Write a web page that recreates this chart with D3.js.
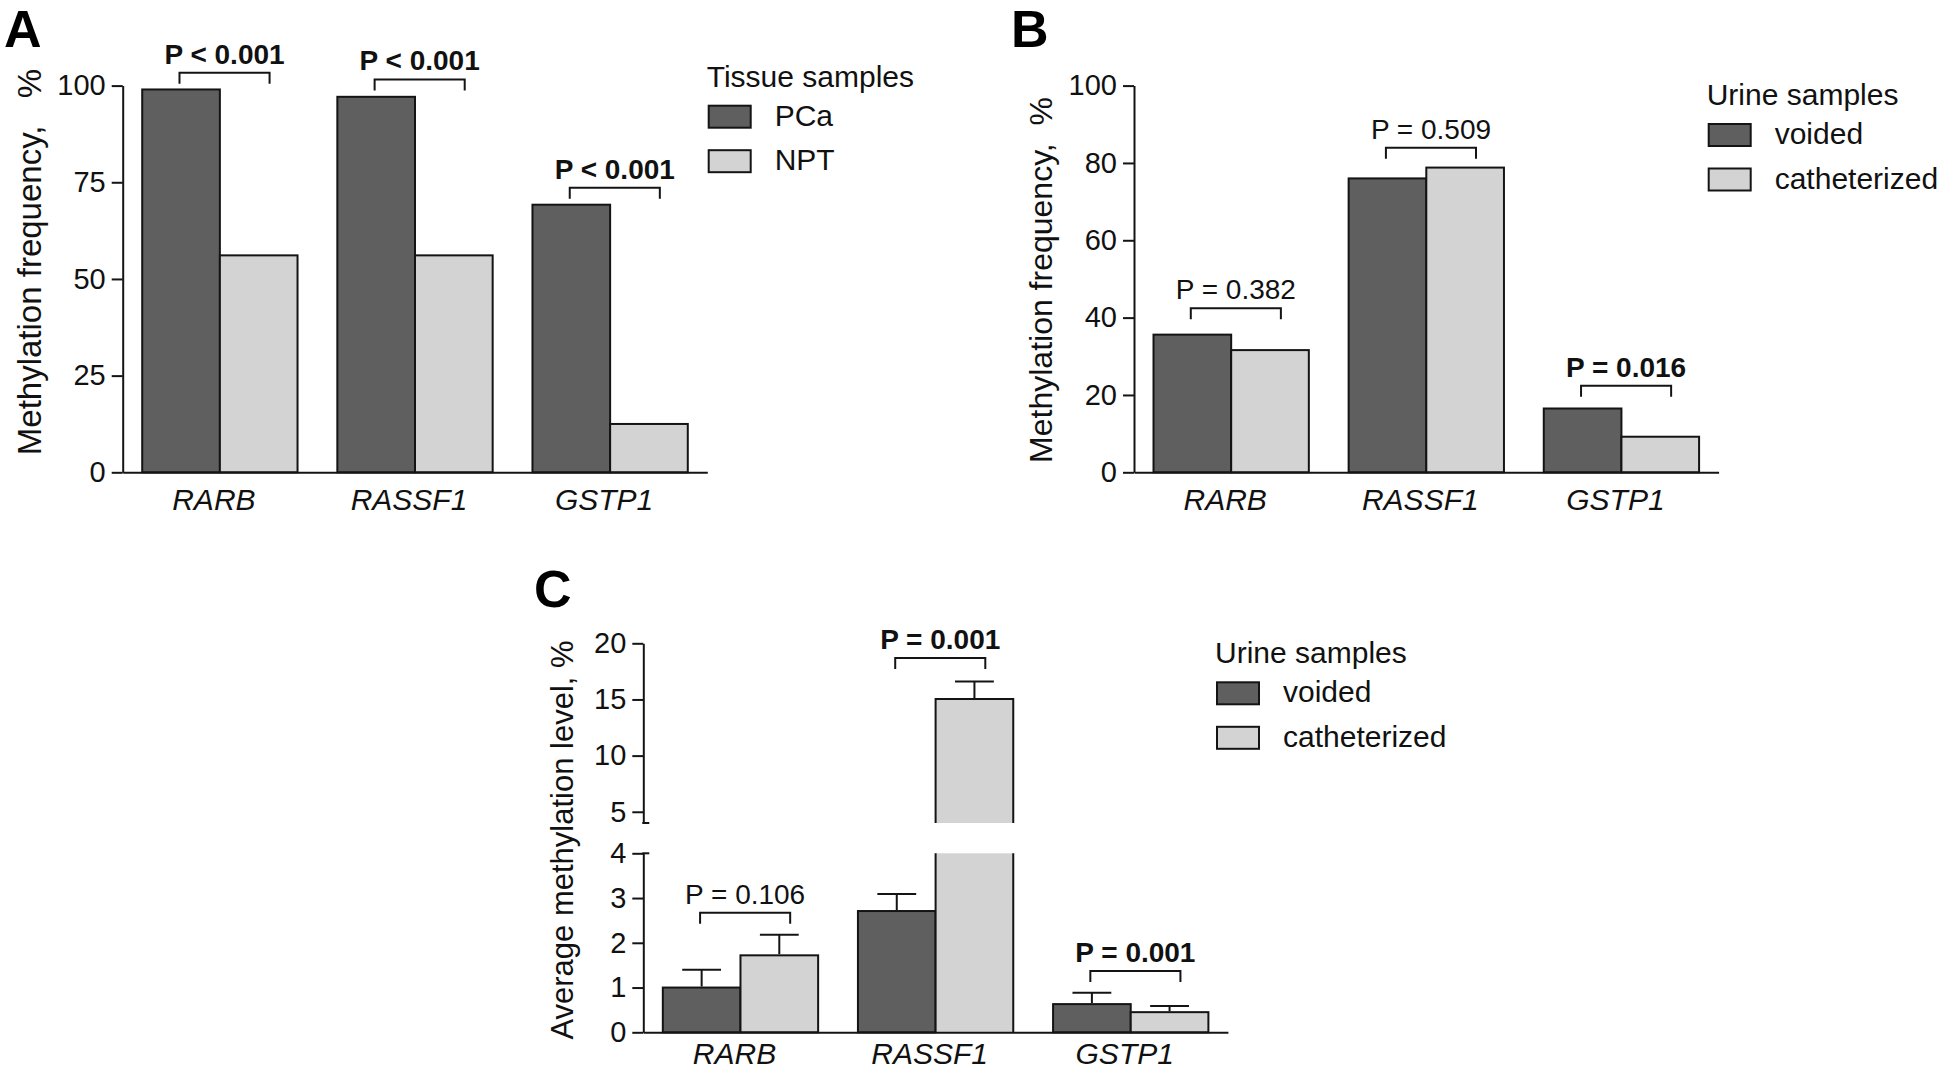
<!DOCTYPE html>
<html>
<head>
<meta charset="utf-8">
<script src="https://cdn.jsdelivr.net/npm/d3@7"></script>
<style>
  html, body { margin: 0; padding: 0; background: #fff; }
  svg { display: block; font-family: "Liberation Sans", Arial, Helvetica, sans-serif; }
</style>
</head>
<body>
<svg id="chart" width="1946" height="1073"></svg>
<script>
// ---------------- DATA ----------------
const genes = ["RARB", "RASSF1", "GSTP1"];

// Panel A: tissue samples, methylation frequency (%)
const tissueSeries = ["PCa", "NPT"];
const tissuePCa = [99.0, 97.1, 69.2];
const tissueNPT = [56.1, 56.1, 12.5];
const ticksA = [0, 25, 50, 75, 100];
const pLabelsA = ["P < 0.001", "P < 0.001", "P < 0.001"];
const pBoldA = [true, true, true];
const pLevelA = [103.3, 101.6, 73.6];

// Panel B: urine samples, methylation frequency (%)
const urineSeries = ["voided", "catheterized"];
const voidedFreq = [35.6, 76.0, 16.5];
const cathFreq = [31.6, 78.8, 9.2];
const ticksB = [0, 20, 40, 60, 80, 100];
const pLabelsB = ["P = 0.382", "P = 0.509", "P = 0.016"];
const pBoldB = [false, false, true];
const pLevelB = [42.4, 83.9, 22.4];

// Panel C: urine samples, average methylation level (%) with SEM
const voidedLevel = [1.0, 2.71, 0.63];
const cathLevel = [1.72, 15.05, 0.45];
const voidedSem = [0.40, 0.38, 0.255];
const cathSem = [0.46, 1.55, 0.14];
const ticksCLow = [0, 1, 2, 3, 4];
const ticksCHigh = [5, 10, 15, 20];
const breakAt = 4;
const pLabelsC = ["P = 0.106", "P = 0.001", "P = 0.001"];
const pBoldC = [false, true, true];
const pLevelC = [2.67, 18.7, 1.37];

// ---------------- STYLE ----------------
const DARK = "#5f5f5f", LIGHT = "#d3d3d3", INK = "#141414";
const colors = [DARK, LIGHT];
const svg = d3.select("#chart");
const fmt = d3.format("d");

function bandScales(x0, x1) {
  const outer = d3.scaleBand().domain(genes).range([x0, x1]).paddingInner(0.204).paddingOuter(0.1);
  const inner = d3.scaleBand().domain([0, 1]).range([0, outer.bandwidth()]);
  return { outer, inner };
}

function styleAxis(g) {
  g.selectAll("path.domain").attr("stroke", INK).attr("stroke-width", 2);
  g.selectAll(".tick line").attr("stroke", INK).attr("stroke-width", 2);
  g.selectAll(".tick text").attr("fill", "#111").style("font-size", "29px");
  g.attr("font-family", null).attr("font-size", null);
}

function drawXAxis(g, outer, y0, off) {
  const ax = g.append("g").attr("transform", `translate(0,${y0})`)
    .call(d3.axisBottom(outer).tickSize(0).tickSizeOuter(0).tickPadding(0));
  ax.selectAll("path.domain").attr("stroke", INK).attr("stroke-width", 2);
  ax.selectAll(".tick text").attr("dy", null).attr("y", off).attr("x", -6)
    .style("font-size", "30px").style("font-style", "italic").attr("fill", "#111");
  ax.attr("font-family", null).attr("font-size", null);
}

function drawPValues(g, outer, yfun, labels, bold, levels) {
  const bw = outer.bandwidth();
  genes.forEach((gname, i) => {
    const l = outer(gname) + 0.24 * bw, r = outer(gname) + 0.82 * bw;
    const yy = yfun(levels[i]);
    g.append("path").attr("d", `M${l},${yy + 11}V${yy}H${r}V${yy + 11}`)
      .attr("fill", "none").attr("stroke", INK).attr("stroke-width", 2);
    g.append("text").attr("x", (l + r) / 2).attr("y", yy - 9).attr("text-anchor", "middle")
      .style("font-size", "28px").style("font-weight", bold[i] ? "bold" : "normal")
      .attr("fill", "#111").text(labels[i]);
  });
}

function drawLegend(g, x, y, title, names) {
  g.append("text").attr("x", x).attr("y", y).style("font-size", "30px").attr("fill", "#111").text(title);
  names.forEach((n, i) => {
    const ry = y + 19 + i * 44.5;
    g.append("rect").attr("x", x + 2).attr("y", ry).attr("width", 42).attr("height", 22)
      .attr("fill", colors[i]).attr("stroke", INK).attr("stroke-width", 2);
    g.append("text").attr("x", x + 68).attr("y", ry + 20).style("font-size", "30px").attr("fill", "#111").text(n);
  });
}

function panelLetter(x, y, t) {
  svg.append("text").attr("x", x).attr("y", y).style("font-size", "52px").style("font-weight", "bold")
    .attr("fill", "#000").text(t);
}

function yTitle(x, y, t, size) {
  svg.append("text").attr("transform", `translate(${x},${y}) rotate(-90)`).attr("text-anchor", "middle")
    .style("font-size", size + "px").style("white-space", "pre").attr("fill", "#111").text(t);
}

// ---------------- Frequency panels (A, B) ----------------
function frequencyPanel(x0, x1, series, ticks, pL, pB, pLev) {
  const g = svg.append("g");
  const { outer, inner } = bandScales(x0, x1);
  const y = d3.scaleLinear().domain([0, 100]).range([472.3, 85.6]);
  const yAx = g.append("g").attr("transform", `translate(${x0},0)`)
    .call(d3.axisLeft(y).tickValues(ticks).tickFormat(fmt).tickSize(11).tickSizeOuter(0).tickPadding(6));
  styleAxis(yAx);
  genes.forEach((gname, i) => {
    series.forEach((vals, s) => {
      g.append("rect").attr("x", outer(gname) + inner(s)).attr("width", inner.bandwidth())
        .attr("y", y(vals[i])).attr("height", y(0) - y(vals[i]))
        .attr("fill", colors[s]).attr("stroke", INK).attr("stroke-width", 2);
    });
  });
  drawXAxis(g, outer, y(0), 38);
  drawPValues(g, outer, y, pL, pB, pLev);
  return g;
}

frequencyPanel(122.7, 707.3, [tissuePCa, tissueNPT], ticksA, pLabelsA, pBoldA, pLevelA);
frequencyPanel(1134, 1718.6, [voidedFreq, cathFreq], ticksB, pLabelsB, pBoldB, pLevelB);

// ---------------- Panel C (broken axis) ----------------
(function () {
  const x0 = 643.3, x1 = 1227.9;
  const g = svg.append("g");
  const { outer, inner } = bandScales(x0, x1);
  const yLow = d3.scaleLinear().domain([0, breakAt]).range([1032.3, 853.3]);
  const yHigh = d3.scaleLinear().domain([breakAt, 20]).range([823, 643.3]);
  const yC = v => (v <= breakAt ? yLow(v) : yHigh(v));

  const axLow = g.append("g").attr("transform", `translate(${x0},0)`)
    .call(d3.axisLeft(yLow).tickValues(ticksCLow).tickFormat(fmt).tickSize(11).tickSizeOuter(0).tickPadding(6));
  styleAxis(axLow);
  const axHigh = g.append("g").attr("transform", `translate(${x0},0)`)
    .call(d3.axisLeft(yHigh).tickValues(ticksCHigh).tickFormat(fmt).tickSize(11).tickSizeOuter(0).tickPadding(6));
  styleAxis(axHigh);
  // break caps
  [yLow(breakAt), yHigh(breakAt)].forEach(yy => {
    g.append("line").attr("x1", x0 - 1).attr("x2", x0 + 6).attr("y1", yy).attr("y2", yy)
      .attr("stroke", INK).attr("stroke-width", 2);
  });

  const series = [voidedLevel, cathLevel];
  const sems = [voidedSem, cathSem];
  genes.forEach((gname, i) => {
    series.forEach((vals, s) => {
      const bx = outer(gname) + inner(s), bw = inner.bandwidth(), v = vals[i];
      if (v <= breakAt) {
        g.append("rect").attr("x", bx).attr("width", bw).attr("y", yLow(v)).attr("height", yLow(0) - yLow(v))
          .attr("fill", colors[s]).attr("stroke", INK).attr("stroke-width", 2);
      } else {
        g.append("rect").attr("x", bx).attr("width", bw).attr("y", yLow(breakAt)).attr("height", yLow(0) - yLow(breakAt))
          .attr("fill", colors[s]);
        g.append("path").attr("d", `M${bx},${yLow(breakAt)}V${yLow(0)}M${bx + bw},${yLow(breakAt)}V${yLow(0)}`)
          .attr("stroke", INK).attr("stroke-width", 2).attr("fill", "none");
        g.append("rect").attr("x", bx).attr("width", bw).attr("y", yHigh(v)).attr("height", yHigh(breakAt) - yHigh(v))
          .attr("fill", colors[s]);
        g.append("path").attr("d", `M${bx},${yHigh(breakAt)}V${yHigh(v)}H${bx + bw}V${yHigh(breakAt)}`)
          .attr("stroke", INK).attr("stroke-width", 2).attr("fill", "none");
      }
      const cx = bx + bw / 2, top = yC(v + sems[s][i]);
      g.append("path").attr("d", `M${cx},${yC(v) - 1}V${top}M${cx - bw / 4},${top}H${cx + bw / 4}`)
        .attr("stroke", INK).attr("stroke-width", 2).attr("fill", "none");
    });
  });
  drawXAxis(g, outer, yLow(0), 32);
  drawPValues(g, outer, yC, pLabelsC, pBoldC, pLevelC);
})();

// ---------------- Titles, letters, legends ----------------
panelLetter(4, 47, "A");
panelLetter(1011, 47, "B");
panelLetter(534, 607, "C");

yTitle(41, 262, "Methylation frequency,   %", 33);
yTitle(1052, 280, "Methylation frequency,  %", 32);
yTitle(573, 840, "Average methylation level, %", 31);

drawLegend(svg, 706.7, 86.7, "Tissue samples", tissueSeries);
drawLegend(svg, 1706.7, 105, "Urine samples", urineSeries);
drawLegend(svg, 1215, 663.3, "Urine samples", urineSeries);
</script>
</body>
</html>
